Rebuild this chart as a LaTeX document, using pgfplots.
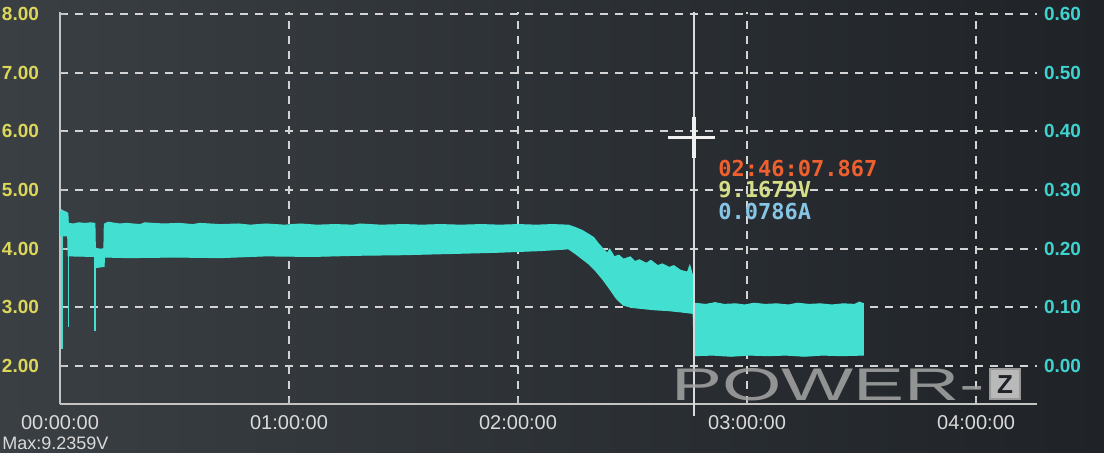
\documentclass[border=0pt]{standalone}
\usepackage{graphicx}
\usepackage{pgfplots}
\usepackage{pgfplotstable}
\pgfplotsset{compat=1.18}
\usepgfplotslibrary{fillbetween}
\usepackage{fontspec}
\setmainfont{Liberation Sans}
\newfontfamily\monofont{DejaVu Sans Mono}
\definecolor{bgL}{HTML}{3A3F43}
\definecolor{bgR}{HTML}{1F2327}
\definecolor{gridc}{HTML}{D4D4D4}
\definecolor{axc}{HTML}{C4C4C4}
\definecolor{band}{HTML}{43E0D1}
\definecolor{ylab}{HTML}{DCD65A}
\definecolor{clab}{HTML}{3FD3CF}
\definecolor{xlab}{HTML}{DADADA}
\definecolor{ctime}{HTML}{F0602E}
\definecolor{cvolt}{HTML}{D5DD86}
\definecolor{camp}{HTML}{86C5E6}

% current band, upper envelope (hours, A)
\pgfplotstableread{
h a
0.000 0.258
0.006 0.266
0.015 0.264
0.028 0.262
0.034 0.260
0.036 0.243
0.060 0.242
0.080 0.244
0.110 0.243
0.135 0.244
0.152 0.243
0.154 0.201
0.175 0.199
0.192 0.200
0.194 0.242
0.21 0.245
0.26 0.242
0.29 0.243
0.35 0.241
0.37 0.244
0.45 0.242
0.52 0.243
0.58 0.241
0.61 0.243
0.70 0.241
0.78 0.242
0.83 0.240
0.90 0.242
0.98 0.240
1.05 0.242
1.12 0.240
1.20 0.241
1.28 0.240
1.31 0.242
1.40 0.240
1.50 0.241
1.58 0.240
1.66 0.241
1.75 0.240
1.84 0.241
1.92 0.240
2.00 0.241
2.08 0.240
2.15 0.241
2.22 0.240
2.25 0.236
2.28 0.231
2.31 0.224
2.33 0.219
2.35 0.209
2.37 0.200
2.39 0.192
2.40 0.199
2.42 0.186
2.44 0.189
2.46 0.182
2.49 0.186
2.51 0.178
2.53 0.181
2.56 0.175
2.58 0.180
2.61 0.171
2.63 0.174
2.66 0.168
2.68 0.171
2.71 0.163
2.74 0.160
2.75 0.171
2.765 0.150
2.770 0.107
2.82 0.105
2.86 0.108
2.90 0.105
2.95 0.106
2.99 0.104
3.03 0.107
3.08 0.105
3.13 0.106
3.18 0.104
3.22 0.107
3.27 0.105
3.32 0.106
3.37 0.104
3.42 0.106
3.47 0.105
3.49 0.109
3.51 0.106
}\upperdata

% lower envelope
\pgfplotstableread{
h a
0.000 0.222
0.034 0.222
0.036 0.188
0.152 0.187
0.154 0.168
0.192 0.170
0.194 0.186
0.30 0.185
0.50 0.186
0.70 0.185
0.90 0.188
1.10 0.187
1.30 0.189
1.50 0.190
1.70 0.192
1.90 0.194
2.10 0.197
2.22 0.200
2.25 0.192
2.28 0.183
2.31 0.174
2.34 0.162
2.37 0.148
2.40 0.132
2.43 0.115
2.46 0.104
2.50 0.100
2.55 0.098
2.60 0.096
2.65 0.095
2.70 0.093
2.765 0.090
2.770 0.018
2.85 0.019
2.93 0.017
3.01 0.019
3.09 0.018
3.17 0.019
3.25 0.017
3.33 0.019
3.41 0.018
3.51 0.019
}\lowerdata

\begin{document}
\begin{tikzpicture}
\fill[left color=bgL, right color=bgR] (-30pt,-24pt) rectangle (522pt,202pt);

% voltage axis (left) with grid
\begin{axis}[
  at={(0,0)}, anchor=south west,
  scale only axis, width=488.5pt, height=196pt,
  xmin=0, xmax=4.266, ymin=1.355, ymax=8.033,
  axis x line*=bottom, axis y line*=left,
  axis line style={axc, line width=1pt},
  xtick={0,1,2,3,4},
  xticklabels={00:00:00,01:00:00,02:00:00,03:00:00,04:00:00},
  ytick={2,3,4,5,6,7,8},
  yticklabels={2.00,3.00,4.00,5.00,6.00,7.00,8.00},
  grid=major,
  grid style={gridc, line width=1pt, dash pattern=on 4pt off 3.5pt},
  tick style={axc, line width=0.8pt}, major tick length=3pt,
  xticklabel style={xlab, font=\fontsize{10}{12}\selectfont, yshift=-2pt},
  yticklabel style={ylab, font=\bfseries\fontsize{9.5}{11}\selectfont, xshift=-7pt},
]
\addplot[draw=none] coordinates {(0,2)};
\end{axis}

% current axis (right) with the data
\begin{axis}[
  at={(0,0)}, anchor=south west,
  scale only axis, width=488.5pt, height=196pt,
  xmin=0, xmax=4.266, ymin=-0.0645, ymax=0.6033,
  axis y line*=right, axis x line=none,
  axis line style={axc, line width=1pt},
  ytick={0,0.1,0.2,0.3,0.4,0.5,0.6},
  yticklabels={0.00,0.10,0.20,0.30,0.40,0.50,0.60},
  tick style={axc, line width=0.8pt}, major tick length=3pt,
  yticklabel style={clab, font=\bfseries\fontsize{9.5}{11}\selectfont},
  clip=false,
]
\addplot[name path=U, band, line width=0.6pt] table[x=h, y=a] {\upperdata};
\addplot[name path=L, band, line width=0.6pt] table[x=h, y=a] {\lowerdata};
\addplot[fill=band, draw=none] fill between[of=U and L, on layer=main];
% spikes
\addplot[band, line width=0.9pt] coordinates {(0.008,0.230) (0.008,0.030)};
\addplot[band, line width=0.9pt] coordinates {(0.037,0.200) (0.037,0.066)};
\addplot[band, line width=0.9pt] coordinates {(0.153,0.195) (0.153,0.060)};
% cursor
\addplot[xlab, line width=0.9pt] coordinates {(2.7687,-0.085) (2.7687,0.6033)};
\addplot[white!88!gray, line width=1.6pt] coordinates {(2.655,0.39) (2.86,0.39)};
\addplot[white!88!gray, line width=1.8pt] coordinates {(2.7687,0.355) (2.7687,0.425)};
\node[anchor=west, text=ctime, font=\monofont\bfseries\fontsize{11}{12}\selectfont, inner sep=0pt] at (axis cs:2.873,0.336) {02:46:07.867};
\node[anchor=west, text=cvolt, font=\monofont\bfseries\fontsize{11}{12}\selectfont, inner sep=0pt] at (axis cs:2.873,0.300) {9.1679V};
\node[anchor=west, text=camp, font=\monofont\bfseries\fontsize{11}{12}\selectfont, inner sep=0pt] at (axis cs:2.873,0.264) {0.0786A};
% watermark
\node[text=gray!70!white, opacity=0.85, inner sep=0pt] at (axis cs:3.354,-0.031) {\resizebox{157pt}{16pt}{POWER-}};
\node[fill=gray!55!white, draw=gray!80!white, line width=1pt, minimum size=15pt, inner sep=0pt, text=bgR, font=\bfseries\fontsize{13}{13}\selectfont] at (axis cs:4.127,-0.031) {Z};
\end{axis}

\node[anchor=west, text=xlab, font=\fontsize{9}{10}\selectfont, inner sep=0pt] at (-29pt,-19.5pt) {Max:9.2359V};

\pgfresetboundingbox
\useasboundingbox (-30pt,-24pt) rectangle (522pt,202pt);
\end{tikzpicture}
\end{document}
